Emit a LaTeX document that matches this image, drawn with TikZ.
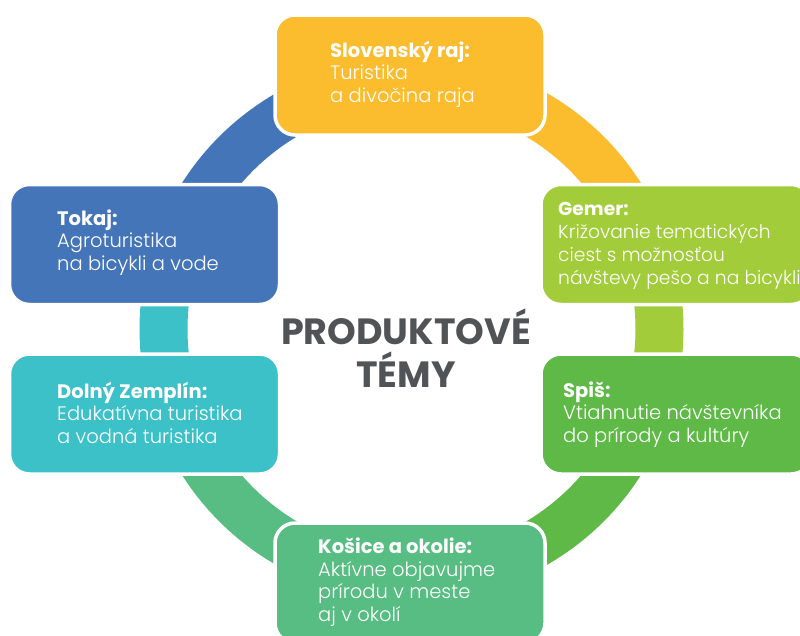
\documentclass[tikz,border=0pt]{standalone}
\usepackage{fontspec}
\setmainfont{Poppins}
\newfontfamily\lightfont{Poppins Light}
\usepackage{xcolor}
\definecolor{ty}{HTML}{FBBC2D}
\definecolor{tl}{HTML}{A2CC3A}
\definecolor{tg}{HTML}{5EB947}
\definecolor{tm}{HTML}{57BD82}
\definecolor{tt}{HTML}{3DC1C8}
\definecolor{tb}{HTML}{4575B9}
\definecolor{tx}{HTML}{505456}

\newcommand{\nadpis}[1]{{\rmfamily\bfseries #1}}

\tikzset{
  tema/.style={rectangle,rounded corners=20pt,draw=white,line width=3.5pt,
    minimum width=270pt,minimum height=120pt,inner sep=0pt},
  popis/.style={anchor=base west,align=left,text=white,inner sep=0pt,
    font=\lightfont\fontsize{19.5}{22.5}\selectfont},
}

\begin{document}
\begin{tikzpicture}[x=1pt,y=-1pt]
  \useasboundingbox (0,0) rectangle (800,635);
  \clip (0,0) rectangle (800,635);
  \fill[white] (0,0) rectangle (800,635);

  % The ring: one arc per theme, coloured like the box it leaves
  \coordinate (stred) at (411.5,329);
  \foreach \v/\c in {90/ty, 150/tb, 210/tt, 270/tm, 330/tg, 390/tl} {
    \draw[line width=48pt,\c] (stred) ++(-\v+60:248)
      arc[start angle=-\v+60, end angle=-\v, radius=248];
  }

  % Theme boxes
  \node[tema,fill=ty] (raj) at (410,75) {};
  \node[tema,fill=tl] (gemer) at (676,244.5) {};
  \node[tema,fill=tg] (spis) at (676,414) {};
  \node[tema,fill=tm] (kosice) at (410,583) {};
  \node[tema,fill=tt] (zemplin) at (144.5,414) {};
  \node[tema,fill=tb] (tokaj) at (144.5,244.5) {};

  % Box texts (placed by the baseline of their last line)
  \node[popis] (raj-t) at (330,102) {\nadpis{Slovenský raj:}\\Turistika\\a divočina raja};
  \node[popis,font=\lightfont\fontsize{18.7}{22.8}\selectfont] (gemer-t) at (558,284)
    {\nadpis{Gemer:}\\Križovanie tematických\\ciest s možnosťou\\návštevy pešo a na bicykli};
  \node[popis] (spis-t) at (563,442) {\nadpis{Spiš:}\\Vtiahnutie návštevníka\\do prírody a kultúry};
  \node[popis] (kosice-t) at (318,621) {\nadpis{Košice a okolie:}\\Aktívne objavujme\\prírodu v meste\\aj v okolí};
  \node[popis] (zemplin-t) at (57,443) {\nadpis{Dolný Zemplín:}\\Edukatívna turistika\\a vodná turistika};
  \node[popis] (tokaj-t) at (57,270) {\nadpis{Tokaj:}\\Agroturistika\\na bicykli a vode};

  % Centre title
  \node[font=\rmfamily\bfseries\fontsize{36.5}{43}\selectfont,text=tx,align=center,
    anchor=base,inner sep=0pt] (nazov) at (406,387) {PRODUKTOVÉ\\TÉMY};
\end{tikzpicture}
\end{document}
